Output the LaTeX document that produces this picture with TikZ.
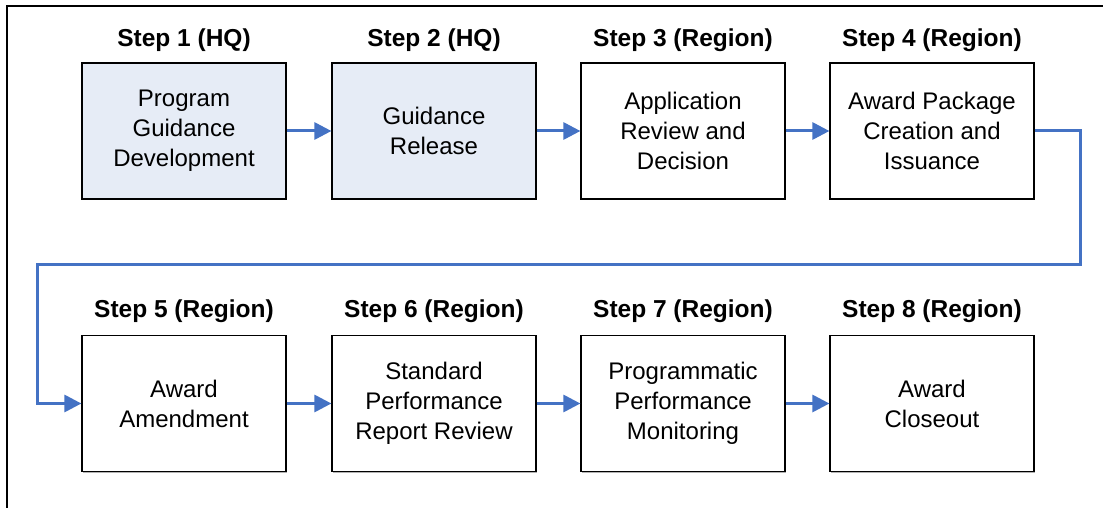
\documentclass[tikz,border=0pt]{standalone}
\usepackage{fontspec}
\setmainfont{Liberation Sans}
\usetikzlibrary{arrows.meta,shadows}
\definecolor{hqfill}{RGB}{230,236,246}
\definecolor{flow}{RGB}{68,114,196}
\tikzset{
  stepbox/.style={draw=black, line width=1.2pt, fill=white, minimum width=204pt, minimum height=136pt,
    inner sep=0pt, align=center, font=\fontsize{24}{30}\selectfont,
    drop shadow={shadow xshift=0.6pt, shadow yshift=-1.4pt, fill=black!30, opacity=1}},
  hqbox/.style={stepbox, fill=hqfill},
  steplabel/.style={font=\bfseries\fontsize{24.5}{28}\selectfont, inner sep=0pt},
  flowline/.style={draw=flow, line width=3pt, -{Triangle[length=17pt,width=17pt]}},
  frameline/.style={draw=black, line width=2pt}
}
\begin{document}
\begin{tikzpicture}[x=1pt,y=-1pt]
\useasboundingbox (0,0) rectangle (1103,508);
\draw[frameline] (7,508) -- (7,6.5) -- (1103,6.5);
% top row
\node[hqbox] (b1) at (184,131) {Program\\Guidance\\Development};
\node[hqbox] (b2) at (434,131) {Guidance\\Release};
\node[stepbox] (b3) at (683,131) {Application\\Review and\\Decision};
\node[stepbox] (b4) at (932,131) {Award Package\\Creation and\\Issuance};
% bottom row
\node[stepbox] (b5) at (184,403.5) {Award\\Amendment};
\node[stepbox] (b6) at (434,403.5) {Standard\\Performance\\Report Review};
\node[stepbox] (b7) at (683,403.5) {Programmatic\\Performance\\Monitoring};
\node[stepbox] (b8) at (932,403.5) {Award\\Closeout};
% labels
\node[steplabel] (l1) at (184,40) {Step 1 (HQ)};
\node[steplabel] (l2) at (434,40) {Step 2 (HQ)};
\node[steplabel] (l3) at (683,40) {Step 3 (Region)};
\node[steplabel] (l4) at (932,40) {Step 4 (Region)};
\node[steplabel] (l5) at (184,311) {Step 5 (Region)};
\node[steplabel] (l6) at (434,311) {Step 6 (Region)};
\node[steplabel] (l7) at (683,311) {Step 7 (Region)};
\node[steplabel] (l8) at (932,311) {Step 8 (Region)};
% connectors
\draw[flowline] (b1) -- (b2);
\draw[flowline] (b2) -- (b3);
\draw[flowline] (b3) -- (b4);
\coordinate (c1) at (1080,131);
\coordinate (c2) at (1080,264);
\coordinate (c3) at (37,264);
\coordinate (c4) at (37,403.5);
\draw[flowline] (b4.east) -- (c1) -- (c2) -- (c3) -- (c4) -- (b5.west);
\draw[flowline] (b5) -- (b6);
\draw[flowline] (b6) -- (b7);
\draw[flowline] (b7) -- (b8);
\end{tikzpicture}
\end{document}
